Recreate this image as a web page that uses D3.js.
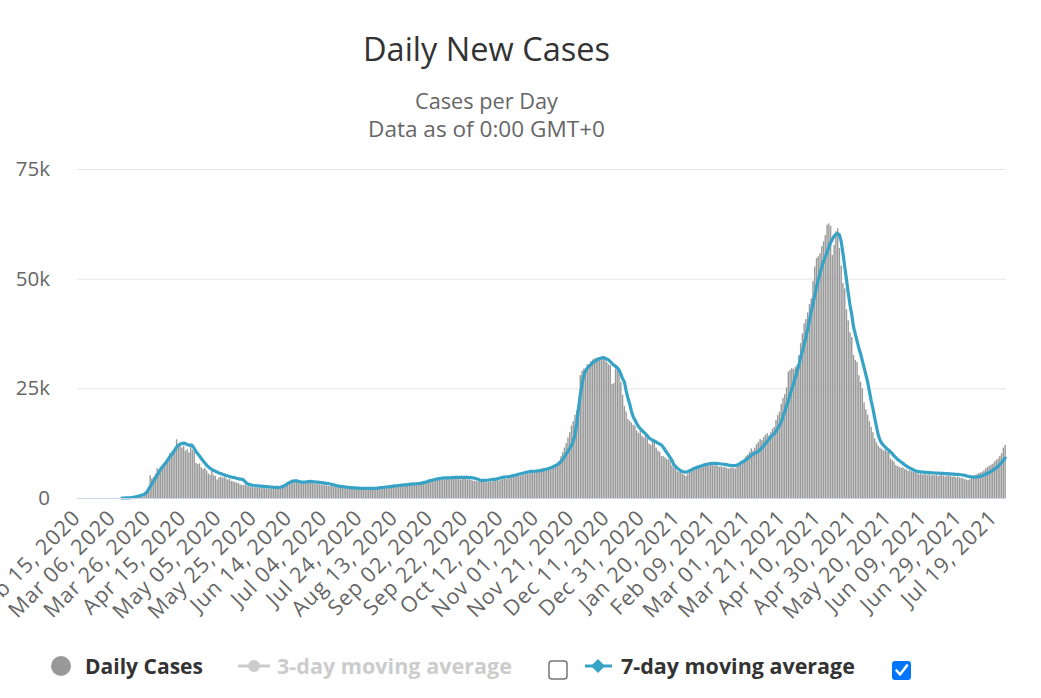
<!DOCTYPE html>
<html>
<head>
<meta charset="utf-8">
<script src="https://cdn.jsdelivr.net/npm/d3@7"></script>
<style>
  body { margin: 0; background: #ffffff; }
  svg { display: block; font-family: "Open Sans", "DejaVu Sans", sans-serif; }
</style>
</head>
<body>
<svg id="chart" width="1041" height="698"></svg>
<script>
// ---------------- DATA ----------------
const firstDay = "2020-02-15";

const tickLabels = ["Feb 15, 2020","Mar 06, 2020","Mar 26, 2020","Apr 15, 2020","May 05, 2020","May 25, 2020",
  "Jun 14, 2020","Jul 04, 2020","Jul 24, 2020","Aug 13, 2020","Sep 02, 2020","Sep 22, 2020","Oct 12, 2020",
  "Nov 01, 2020","Nov 21, 2020","Dec 11, 2020","Dec 31, 2020","Jan 20, 2021","Feb 09, 2021","Mar 01, 2021",
  "Mar 21, 2021","Apr 10, 2021","Apr 30, 2021","May 20, 2021","Jun 09, 2021","Jun 29, 2021","Jul 19, 2021"];

const yTickValues = [0, 25000, 50000, 75000];
const yTickLabels = ["0", "25k", "50k", "75k"];

// Daily new cases, one array per month
const cases2020Feb = [0,0,0,0,0,0,0,0,0,0,0,0,0,0,0];
const cases2020Mar = [0,0,0,0,0,0,0,0,0,0,1,0,4,2,15,30,55,100,180,310,290,320,380,1100,1500,2400,5200,4500,4800,5600,6800];
const cases2020Apr = [6400,6900,7100,7900,8400,8800,10200,10500,10900,11200,13400,11800,12100,11500,11900,10800,11200,10400,11700,11000,10600,8000,7700,7900,7000,6600,6900,6300,5600,5300];
const cases2020May = [6300,5200,5000,4200,4700,4900,4600,4800,4500,4200,4400,3900,3800,3600,3500,3400,3100,3000,2900,3100,2800,2700,2500,2600,2400,2500,2300,2400,2200,2300,2200];
const cases2020Jun = [2200,2100,2200,2100,2200,2100,2300,2200,2300,2500,2800,3100,3300,3500,3700,3800,3600,3700,3500,3400,3300,3400,3500,3600,3500,3400,3500,3300,3400,3200];
const cases2020Jul = [3100,3000,3100,2900,2900,2800,2700,2800,2600,2700,2500,2600,2500,2400,2400,2300,2300,2200,2300,2200,2200,2100,2200,2100,2200,2100,2100,2200,2100,2200,2200];
const cases2020Aug = [2300,2300,2400,2500,2600,2600,2700,2600,2700,2800,2800,2900,2800,2900,2900,3000,2900,3000,3000,3100,3000,3100,3100,3200,3200,3300,3300,3400,3500,3600,3700];
const cases2020Sep = [3800,3900,4000,4100,4000,4200,4100,4200,4300,4200,4400,4300,4200,4400,4300,4500,4300,4400,4200,4500,4300,4400,4200,4300,4100,4000,3900,3900,3800,3900];
const cases2020Oct = [3800,3700,3700,3600,3700,3800,3700,3900,4000,4100,4000,4200,4300,4400,4300,4500,4600,4700,4800,4900,5000,5100,5000,5200,5300,5400,5500,5600,5700,5800,5900];
const cases2020Nov = [6000,6000,6100,6200,6200,6300,6400,6500,6500,6700,7000,7500,8000,8500,9500,10500,11500,12500,13800,15000,16500,17500,19000,20000,20500,28000,29000,29500,29600,30500];
const cases2020Dec = [30500,31200,31600,31800,31900,32100,31700,32000,32400,31900,31000,30500,30300,26000,26200,29500,30000,29300,26500,23500,21000,19700,18000,17600,17200,16700,16500,15400,14800,15300,14200];
const cases2021Jan = [13800,14400,13600,12400,12100,13200,12800,11500,10800,10500,9500,9600,9300,8900,8800,8600,7500,7000,6800,6100,6000,5900,5600,5300,5000,5500,5900,6100,6300,6700,6800];
const cases2021Feb = [7000,7100,6900,7200,7300,7500,7400,7600,7500,7400,7600,7300,7100,7200,7000,7100,6900,6700,6800,6900,6800,6700,7400,7600,7700,8500,9000,9600];
const cases2021Mar = [9900,10500,11300,10800,11500,12300,12800,13500,13200,13900,14400,14800,14300,15000,15800,16200,17800,18900,19700,21500,22800,23700,25200,28800,29200,29600,29400,29900,30400,32600,35300];
const cases2021Apr = [37500,39800,40800,42300,44200,45500,49500,52800,54700,55100,55800,57400,58500,59900,62300,62600,62000,55400,57700,60800,61500,57000,53000,49000,47800,43000,40500,37800,36700,32600];
const cases2021May = [31500,31000,28000,26500,25000,21800,20200,19000,17500,16200,15000,13600,12700,11900,11500,11200,10800,11000,10600,11100,9000,8600,8300,7500,7300,7100,6900,7000,6600,6500,6200];
const cases2021Jun = [6300,6100,6000,5900,5700,5400,5600,5300,5500,5400,5200,5500,5100,5300,5200,5400,5000,5300,5200,5100,4900,5200,5000,5100,4800,5000,4700,4900,4700,4600];
const cases2021Jul = [4500,4300,4200,4100,4300,4600,4800,5200,5400,5700,5800,6000,6300,6800,7100,7300,7600,7800,8300,8700,9000,9600,10200,11500,12100];

// 7-day moving average as plotted, one array per month (null = not drawn)
const avg2020Feb = [null,null,null,null,null,null,null,null,null,null,null,null,null,null,null];
const avg2020Mar = [null,null,null,null,null,null,null,null,null,null,0,0,10,20,50,80,130,200,300,400,500,600,750,950,1300,1900,2600,3200,3900,4600,5200];
const avg2020Apr = [5900,6600,7100,7600,8100,8700,9300,9800,10300,11000,11600,12000,12300,12400,12500,12400,12200,12000,12100,11900,11300,10600,10100,9600,9000,8500,8000,7500,7100,6800];
const avg2020May = [6500,6300,6100,5900,5700,5600,5400,5300,5100,5000,4900,4800,4700,4600,4500,4400,4300,4300,4100,3700,3300,3100,3000,2900,2850,2800,2750,2700,2700,2650,2600];
const avg2020Jun = [2600,2550,2500,2500,2450,2400,2400,2400,2450,2600,2800,3000,3300,3500,3700,3850,3900,3900,3800,3700,3600,3600,3650,3700,3750,3800,3750,3700,3650,3600];
const avg2020Jul = [3550,3500,3450,3400,3350,3300,3200,3100,3000,2900,2800,2700,2650,2600,2550,2500,2450,2400,2350,2300,2300,2250,2250,2200,2200,2200,2200,2200,2200,2200,2200];
const avg2020Aug = [2200,2200,2250,2300,2350,2400,2450,2500,2550,2600,2650,2700,2750,2800,2850,2900,2950,3000,3000,3050,3100,3150,3200,3200,3250,3300,3300,3400,3500,3600,3700];
const avg2020Sep = [3850,3950,4050,4150,4250,4350,4450,4500,4550,4600,4600,4600,4600,4650,4650,4700,4700,4700,4700,4700,4700,4700,4700,4650,4650,4600,4500,4400,4250,4100];
const avg2020Oct = [4000,4000,4000,4050,4100,4150,4200,4250,4300,4400,4500,4600,4700,4750,4800,4850,4900,5000,5100,5200,5300,5400,5500,5600,5700,5800,5900,6000,6050,6100,6100];
const avg2020Nov = [6150,6200,6200,6300,6400,6500,6600,6700,6850,7000,7200,7400,7600,7900,8300,8800,9400,10000,10700,11300,12000,13000,14500,17000,20500,23500,26000,28000,29000,29600];
const avg2020Dec = [30000,30400,30800,31100,31400,31600,31800,31900,32000,31900,31700,31500,31100,30700,30300,30000,29700,29200,28300,27200,26500,24500,22800,21500,19800,18500,17800,17000,16300,15800,15400];
const avg2021Jan = [15000,14600,14200,13700,13400,13200,13000,12800,12500,12300,12100,11600,11000,10400,9800,9200,8600,7700,7200,6800,6500,6200,6050,5950,5900,6000,6200,6400,6600,6800,6950];
const avg2021Feb = [7100,7200,7350,7500,7600,7700,7800,7850,7900,7900,7900,7850,7800,7750,7700,7650,7600,7500,7450,7400,7400,7400,7500,7700,8000,8200,8400,8700];
const avg2021Mar = [9000,9400,9700,10000,10200,10400,10600,11000,11400,11900,12400,12900,13400,13900,14300,14600,15200,15900,16600,17400,18500,19700,20900,22100,23500,24800,26100,27500,28900,30300,32000];
const avg2021Apr = [33500,35000,36800,38500,40400,42500,44300,46200,48000,49700,51200,52700,53900,55000,56000,57200,58200,59000,59700,60100,60300,60000,58500,55800,52800,49800,46800,44000,41800,39000];
const avg2021May = [37400,35800,34200,32900,31300,29700,28100,26500,24300,22200,20400,18300,16300,14400,13200,12500,12000,11600,11200,10900,10500,10100,9600,9200,8800,8500,8200,7900,7600,7300,7000];
const avg2021Jun = [6800,6600,6400,6200,6100,6000,5950,5900,5900,5850,5800,5800,5750,5750,5700,5700,5650,5650,5600,5600,5550,5550,5500,5500,5450,5450,5400,5400,5350,5300];
const avg2021Jul = [5250,5150,5050,4950,4850,4800,4750,4750,4800,4850,4950,5100,5250,5450,5650,5850,6050,6300,6600,6900,7250,7650,8100,8600,9100];

const legendLabels = ["Daily Cases", "3-day moving average", "7-day moving average"];

// ---------------- BUILD ----------------
const dailyCases = [].concat(cases2020Feb, cases2020Mar, cases2020Apr, cases2020May, cases2020Jun, cases2020Jul,
  cases2020Aug, cases2020Sep, cases2020Oct, cases2020Nov, cases2020Dec, cases2021Jan, cases2021Feb, cases2021Mar,
  cases2021Apr, cases2021May, cases2021Jun, cases2021Jul);
const movingAvg7 = [].concat(avg2020Feb, avg2020Mar, avg2020Apr, avg2020May, avg2020Jun, avg2020Jul,
  avg2020Aug, avg2020Sep, avg2020Oct, avg2020Nov, avg2020Dec, avg2021Jan, avg2021Feb, avg2021Mar,
  avg2021Apr, avg2021May, avg2021Jun, avg2021Jul);

const N = dailyCases.length;
const start = d3.timeParse("%Y-%m-%d")(firstDay);
const categories = d3.range(N).map(i => d3.timeDay.offset(start, i));
const fmt = d3.timeFormat("%b %d, %Y");
const tickIdx = tickLabels.map(lbl => categories.findIndex(d => fmt(d) === lbl));

const P = { left: 77, right: 1006, top: 169, bottom: 498 };
const svg = d3.select("#chart");
const TXT = "#333333", SUB = "#666666";
const LINE_C = "#35a2c6", BAR_C = "#999999";

const x = d3.scaleBand().domain(d3.range(N)).range([P.left, P.right]).paddingInner(0.2).paddingOuter(0.1);
const y = d3.scaleLinear().domain([0, 75000]).range([P.bottom, P.top]);

function fitWidth(sel, w) {
  const cur = sel.node().getComputedTextLength();
  const fs = parseFloat(sel.attr("font-size"));
  if (cur > 0) sel.attr("font-size", (fs * w / cur).toFixed(2));
  return sel;
}

// grid
const grid = svg.append("g").attr("transform", `translate(${P.left},0)`)
  .call(d3.axisLeft(y).tickValues(yTickValues).tickSize(-(P.right - P.left)).tickFormat(""));
grid.select(".domain").remove();
grid.selectAll("line").attr("stroke", "#e6e6e6").attr("stroke-width", 1);

// bars
svg.append("g").selectAll("rect").data(dailyCases).join("rect")
  .attr("x", (d, i) => x(i))
  .attr("width", x.bandwidth())
  .attr("y", d => y(d))
  .attr("height", d => y(0) - y(d))
  .attr("fill", BAR_C);

// 7-day line
const line = d3.line()
  .defined(d => d != null)
  .x((d, i) => x(i) + x.bandwidth() / 2)
  .y(d => y(d));
svg.append("path").datum(movingAvg7)
  .attr("d", line)
  .attr("fill", "none")
  .attr("stroke", LINE_C)
  .attr("stroke-width", 3.2)
  .attr("stroke-linejoin", "round")
  .attr("stroke-linecap", "round");

// x axis
const xa = svg.append("g").attr("transform", `translate(0,${P.bottom})`)
  .call(d3.axisBottom(x).tickValues(tickIdx).tickFormat((d, k) => tickLabels[k]).tickSize(0).tickSizeOuter(0));
xa.select(".domain").attr("stroke", "#ccd6eb");
xa.selectAll("text")
  .attr("fill", SUB)
  .attr("font-size", 21.5)
  .attr("letter-spacing", 0.9)
  .attr("font-family", "'Open Sans', sans-serif")
  .attr("text-anchor", "end")
  .attr("x", 4).attr("y", 21).attr("dy", 0)
  .attr("transform", "rotate(-45, 4, 21)");

// y labels
const ya = svg.append("g").attr("transform", `translate(${P.left},0)`)
  .call(d3.axisLeft(y).tickValues(yTickValues).tickFormat((d, k) => yTickLabels[k]).tickSize(0).tickPadding(27));
ya.select(".domain").remove();
ya.selectAll("text").attr("fill", SUB).attr("font-size", 20.5).attr("font-family", "'Open Sans', sans-serif");

// titles
const cx = 486.5;
fitWidth(svg.append("text").attr("x", cx).attr("y", 61).attr("text-anchor", "middle")
  .attr("fill", TXT).attr("font-size", 32).text("Daily New Cases"), 247);
fitWidth(svg.append("text").attr("x", cx).attr("y", 109).attr("text-anchor", "middle")
  .attr("fill", SUB).attr("font-size", 21).text("Cases per Day"), 143);
fitWidth(svg.append("text").attr("x", cx).attr("y", 137).attr("text-anchor", "middle")
  .attr("fill", SUB).attr("font-size", 21).text("Data as of 0:00 GMT+0"), 237);

// legend
const lg = svg.append("g");
const ly = 666;
lg.append("circle").attr("cx", 61).attr("cy", ly).attr("r", 10).attr("fill", BAR_C);
fitWidth(lg.append("text").attr("x", 85).attr("y", ly + 8).attr("font-weight", "bold")
  .attr("fill", TXT).attr("font-size", 20).text(legendLabels[0]), 118);

lg.append("line").attr("x1", 238).attr("x2", 270).attr("y1", ly).attr("y2", ly)
  .attr("stroke", "#cccccc").attr("stroke-width", 3);
lg.append("circle").attr("cx", 254).attr("cy", ly).attr("r", 6).attr("fill", "#cccccc");
fitWidth(lg.append("text").attr("x", 277).attr("y", ly + 8).attr("font-weight", "bold")
  .attr("fill", "#cccccc").attr("font-size", 20).text(legendLabels[1]), 235);

lg.append("rect").attr("x", 549).attr("y", 661).attr("width", 18).attr("height", 18).attr("rx", 3)
  .attr("fill", "#ffffff").attr("stroke", "#767676").attr("stroke-width", 1.5);

lg.append("line").attr("x1", 585).attr("x2", 612).attr("y1", ly).attr("y2", ly)
  .attr("stroke", LINE_C).attr("stroke-width", 3);
lg.append("path").attr("d", `M598,${ly-7}L605,${ly}L598,${ly+7}L591,${ly}Z`).attr("fill", LINE_C);
fitWidth(lg.append("text").attr("x", 621).attr("y", ly + 8).attr("font-weight", "bold")
  .attr("fill", TXT).attr("font-size", 20).text(legendLabels[2]), 234);

lg.append("rect").attr("x", 892).attr("y", 661).attr("width", 19).attr("height", 19).attr("rx", 3)
  .attr("fill", "#0075ff");
lg.append("path").attr("d", "M896.5,670.5L900,674.5L907,665.5")
  .attr("fill", "none").attr("stroke", "#ffffff").attr("stroke-width", 2.6)
  .attr("stroke-linecap", "round").attr("stroke-linejoin", "round");
</script>
</body>
</html>
